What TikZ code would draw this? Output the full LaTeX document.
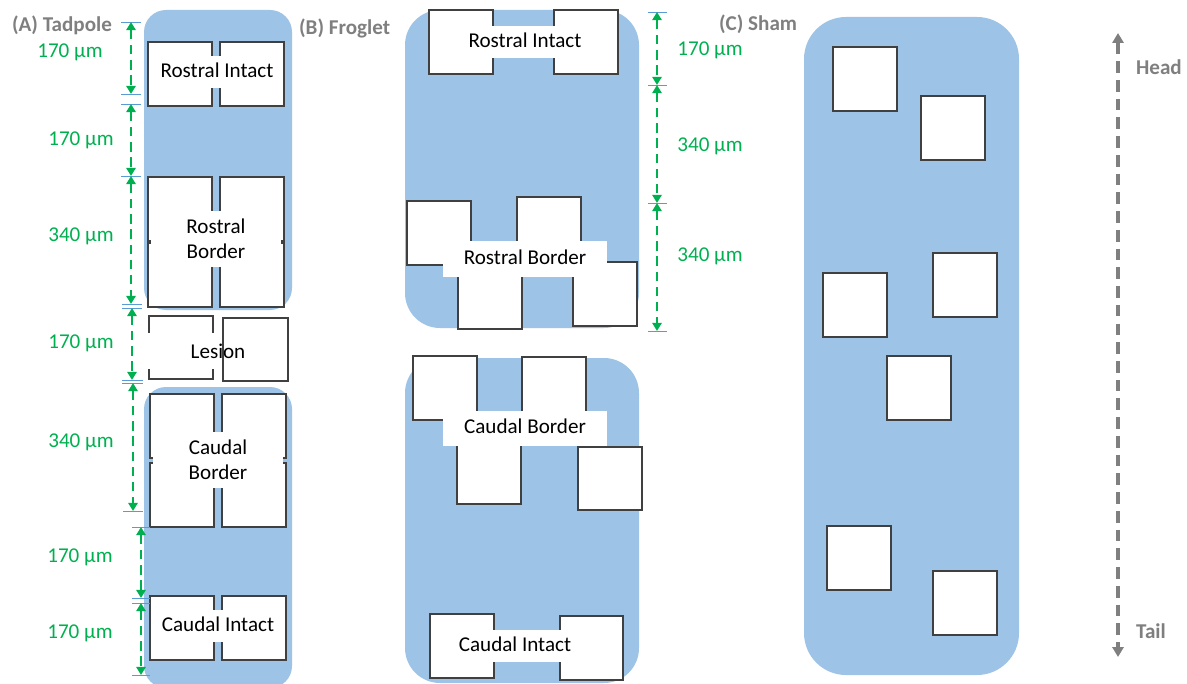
\documentclass[tikz,border=0pt]{standalone}
\usepackage{fontspec}
\setmainfont{Carlito}
\usetikzlibrary{arrows.meta}
\definecolor{tissue}{RGB}{157,195,230}
\definecolor{edgegray}{RGB}{64,64,64}
\definecolor{tickblue}{RGB}{91,155,213}
\definecolor{dimgreen}{RGB}{0,176,80}
\definecolor{titlegray}{RGB}{127,127,127}
\tikzset{
  sq/.style={draw=edgegray, fill=white, line width=1.1pt},
  lbl/.style={fill=white, inner xsep=5pt, inner ysep=6pt, font=\fontsize{18}{21}\selectfont, text height=12.5pt, text depth=3.5pt},
  lbltwo/.style={fill=white, inner xsep=6pt, inner ysep=7pt, minimum width=3.87cm, align=center, font=\fontsize{18}{21.3}\selectfont},
  dim/.style={dimgreen, line width=2.2pt, dash pattern=on 8pt off 5pt, {Triangle[width=8pt,length=7pt]}-{Triangle[width=8pt,length=7pt]}},
  tickline/.style={tickblue, line width=0.6pt},
  dimlbl/.style={dimgreen, font=\fontsize{18}{21}\selectfont},
  title/.style={titlegray, font=\fontsize{18}{21}\selectfont\bfseries, anchor=west}
}
\begin{document}
\begin{tikzpicture}[x=0.03cm, y=-0.03cm]
  \useasboundingbox (0,0) rectangle (1187,684);

  % tissue pieces
  \fill[tissue, rounded corners=0.66cm] (144,10) rectangle (292,310);
  \fill[tissue, rounded corners=0.66cm] (144,387) rectangle (292,688);
  \fill[tissue, rounded corners=1.05cm] (405,10) rectangle (639,328);
  \fill[tissue, rounded corners=1.05cm] (405,358) rectangle (639,683);
  \fill[tissue, rounded corners=1.26cm] (804,17) rectangle (1019,675);

  % (A) tadpole squares
  \foreach \x/\y in {148/42, 220/42, 148/177, 220/177, 148/243, 220/243,
                     150/394, 222/394, 150/463, 222/463, 150/596, 222/596}
    \draw[sq] (\x,\y) rectangle ++(64,64);
  \draw[sq] (149,316) rectangle (213,379);
  \fill[white] (145,333) rectangle (216,369);
  \draw[sq, fill=none] (223,318) rectangle (288,381);

  \node[lbl] at (217,72) (ari) {Rostral Intact};
  \node[lbltwo] at (216,239) (arb) {Rostral\\Border};
  \node[font=\fontsize{18}{21}\selectfont] at (218,351) (ales) {Lesion};
  \node[lbltwo] at (218,460) (acb) {Caudal\\Border};
  \node[lbl] at (218,626) (aci) {Caudal Intact};

  % (B) froglet squares
  \foreach \x/\y in {429/10, 554/10, 407/201, 517/197, 458/265, 573/262,
                     413/356, 522/357, 457/440}
    \draw[sq] (\x,\y) rectangle ++(64,64);
  \node[lbl] at (525,42) (bri) {Rostral Intact};
  \node[lbl, minimum width=4.92cm, minimum height=1.05cm] at (525,259) (brb) {Rostral Border};
  \node[lbl, minimum width=4.92cm, minimum height=1.05cm] at (525,428) (bcb) {Caudal Border};
  \draw[sq] (578,447) rectangle ++(64,63);
  \draw[sq] (430,614) rectangle ++(64,64);
  \draw[sq] (560,616) rectangle ++(63,64);
  \node[lbl, minimum width=2.4cm] at (515,646) (bci) {Caudal Intact};

  % (C) sham squares
  \foreach \x/\y in {833/47, 921/96, 933/253, 823/273, 887/356, 827/526, 933/571}
    \draw[sq] (\x,\y) rectangle ++(64,64);

  % panel titles
  \node[title] at (8,25) (ta) {(A) Tadpole};
  \node[title] at (295,28) (tb) {(B) Froglet};
  \node[title] at (715,24) (tc) {(C) Sham};

  % (A) measurement ticks and arrows
  \foreach \y/\xa/\xb in {22/121/141, 94/121/141, 104/121/141, 176/121/141,
        304/122/142, 308/122/142, 380/122/143, 383/122/143, 511/123/143,
        527/132/150, 598/132/150, 603/132/150, 675/132/150}
    \draw[tickline] (\xa,\y) -- (\xb,\y);
  \foreach \x/\ya/\yb in {131/22/94, 131/104/176, 131/176/304, 132/308/380,
        133/383/511, 141/527/598, 141/603/675}
  {
    \coordinate (s) at (\x,\ya);
    \coordinate (e) at (\x,\yb);
    \draw[dim] (s) -- (e);
  }
  \node[dimlbl] at (70,52) (da1) {170 µm};
  \node[dimlbl] at (81,140) (da2) {170 µm};
  \node[dimlbl] at (81,236) (da3) {340 µm};
  \node[dimlbl] at (81,343) (da4) {170 µm};
  \node[dimlbl] at (81,442) (da5) {340 µm};
  \node[dimlbl] at (80,557) (da6) {170 µm};
  \node[dimlbl] at (80,633) (da7) {170 µm};

  % (B) measurement ticks and arrows
  \foreach \y in {12, 85, 203, 331}
    \draw[tickline] (648,\y) -- (667,\y);
  \foreach \ya/\yb in {12/85, 85/203, 203/331}
  {
    \coordinate (s) at (657,\ya);
    \coordinate (e) at (657,\yb);
    \draw[dim] (s) -- (e);
  }
  \node[dimlbl] at (710,50) (db1) {170 µm};
  \node[dimlbl] at (710,146) (db2) {340 µm};
  \node[dimlbl] at (710,256) (db3) {340 µm};

  % body axis
  \coordinate (head) at (1118,33);
  \coordinate (tail) at (1118,657);
  \draw[titlegray, line width=3.2pt, dash pattern=on 10pt off 6pt,
        {Triangle[width=9.5pt,length=8.5pt]}-{Triangle[width=9.5pt,length=8.5pt]}] (head) -- (tail);
  \node[title] at (1132,67) (lh) {Head};
  \node[title] at (1132,631) (lt) {Tail};
\end{tikzpicture}
\end{document}
